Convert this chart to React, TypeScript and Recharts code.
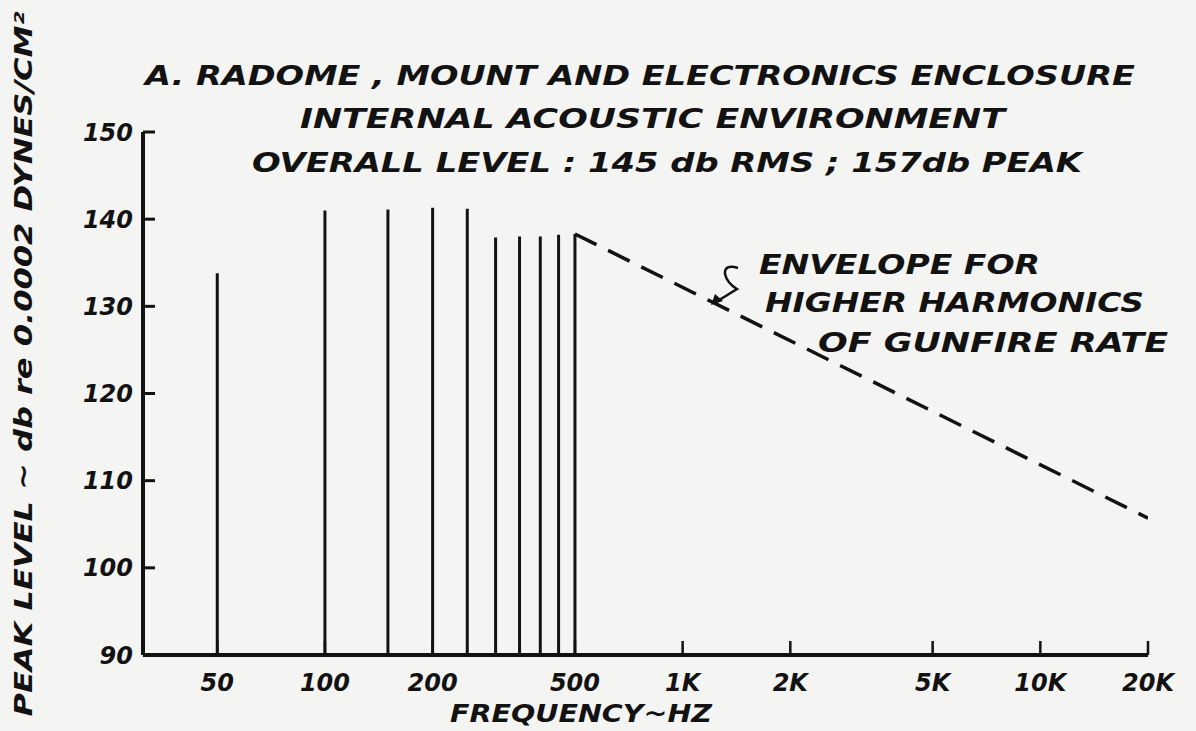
import { Line, LineChart, ReferenceLine, XAxis, YAxis } from 'recharts';

// gunfire-rate harmonics (Hz) and their peak levels (dB)
const SPIKE_FREQS = [50, 100, 150, 200, 250, 300, 350, 400, 450, 500];
const SPIKE_LEVELS = [133.8, 141.0, 141.1, 141.3, 141.2, 137.9, 138.0, 138.0, 138.2, 138.3];

// dashed envelope for higher harmonics
const ENVELOPE_FREQS = [500, 20000];
const ENVELOPE_LEVELS = [138.3, 105.7];

const X_TICKS = [50, 100, 200, 500, 1000, 2000, 5000, 10000, 20000];
const Y_TICKS = [90, 100, 110, 120, 130, 140, 150];

const TITLE_LINES = [
    'A. RADOME , MOUNT AND ELECTRONICS ENCLOSURE',
    'INTERNAL ACOUSTIC ENVIRONMENT',
    'OVERALL LEVEL : 145 db RMS ; 157db PEAK',
];
const NOTE_LINES = ['ENVELOPE FOR', 'HIGHER HARMONICS', 'OF GUNFIRE RATE'];

const INK = '#121212';
const FONT = '"DejaVu Sans", sans-serif';

const envelopeData = ENVELOPE_FREQS.map((freq, i) => ({
    freq,
    level: ENVELOPE_LEVELS[i],
}));

function formatFreq(value: number) {
    return value >= 1000 ? `${value / 1000}K` : String(value);
}

const tickStyle = {
    fill: INK,
    fontSize: 24,
    fontStyle: 'italic',
    fontWeight: 'bold',
    fontFamily: FONT,
};

export default function App() {
    return (
        <div
            style={{
                position: 'absolute',
                left: 0,
                top: 0,
                width: 1196,
                height: 731,
                background: '#f4f4f2',
                overflow: 'hidden',
            }}
        >
            <LineChart
                width={1196}
                height={731}
                data={envelopeData}
                margin={{ top: 132, right: 48, bottom: 16, left: 83 }}
            >
                <XAxis
                    type="number"
                    dataKey="freq"
                    scale="log"
                    domain={[31, 20000]}
                    allowDataOverflow
                    ticks={X_TICKS}
                    tickFormatter={formatFreq}
                    height={60}
                    axisLine={{ stroke: INK, strokeWidth: 4 }}
                    tickLine={{ stroke: INK, strokeWidth: 2.5 }}
                    tickSize={-14}
                    tickMargin={33}
                    tick={tickStyle}
                    interval={0}
                />
                <YAxis
                    type="number"
                    domain={[90, 150]}
                    ticks={Y_TICKS}
                    width={60}
                    axisLine={{ stroke: INK, strokeWidth: 4 }}
                    tickLine={{ stroke: INK, strokeWidth: 3 }}
                    tickSize={-12}
                    tickMargin={22}
                    tick={tickStyle}
                    interval={0}
                />
                {SPIKE_FREQS.map((freq, i) => (
                    <ReferenceLine
                        key={freq}
                        segment={[
                            { x: freq, y: 90 },
                            { x: freq, y: SPIKE_LEVELS[i] },
                        ]}
                        stroke={INK}
                        strokeWidth={3}
                    />
                ))}
                <Line
                    dataKey="level"
                    stroke={INK}
                    strokeWidth={3.5}
                    strokeDasharray="24 13"
                    dot={false}
                    activeDot={false}
                    isAnimationActive={false}
                />
            </LineChart>

            <svg
                width={1196}
                height={731}
                style={{ position: 'absolute', left: 0, top: 0, pointerEvents: 'none' }}
                fontFamily={FONT}
                fontStyle="italic"
                fontWeight="bold"
                fill={INK}
            >
                <text x={145} y={85} fontSize={26} textLength={990} lengthAdjust="spacingAndGlyphs">
                    {TITLE_LINES[0]}
                </text>
                <text x={300} y={128} fontSize={26} textLength={705} lengthAdjust="spacingAndGlyphs">
                    {TITLE_LINES[1]}
                </text>
                <text x={252} y={172} fontSize={26} textLength={830} lengthAdjust="spacingAndGlyphs">
                    {TITLE_LINES[2]}
                </text>

                <text x={759} y={274} fontSize={26} textLength={281} lengthAdjust="spacingAndGlyphs">
                    {NOTE_LINES[0]}
                </text>
                <text x={765} y={312} fontSize={26} textLength={379} lengthAdjust="spacingAndGlyphs">
                    {NOTE_LINES[1]}
                </text>
                <text x={818} y={352} fontSize={26} textLength={350} lengthAdjust="spacingAndGlyphs">
                    {NOTE_LINES[2]}
                </text>
                <path
                    d="M738 268 Q724 264 725 274 Q727 283 737 289 L716 302"
                    stroke={INK}
                    strokeWidth={2.5}
                    fill="none"
                />
                <path d="M711 305 L715 294 L723 301 Z" fill={INK} />

                <text x={450} y={722} fontSize={24} textLength={262} lengthAdjust="spacingAndGlyphs">
                    FREQUENCY~HZ
                </text>
                <text
                    x={0}
                    y={0}
                    fontSize={25}
                    textAnchor="middle"
                    textLength={705}
                    lengthAdjust="spacingAndGlyphs"
                    transform="translate(32 364) rotate(-90)"
                >
                    PEAK LEVEL ~ db re 0.0002 DYNES/CM²
                </text>
            </svg>
        </div>
    );
}
